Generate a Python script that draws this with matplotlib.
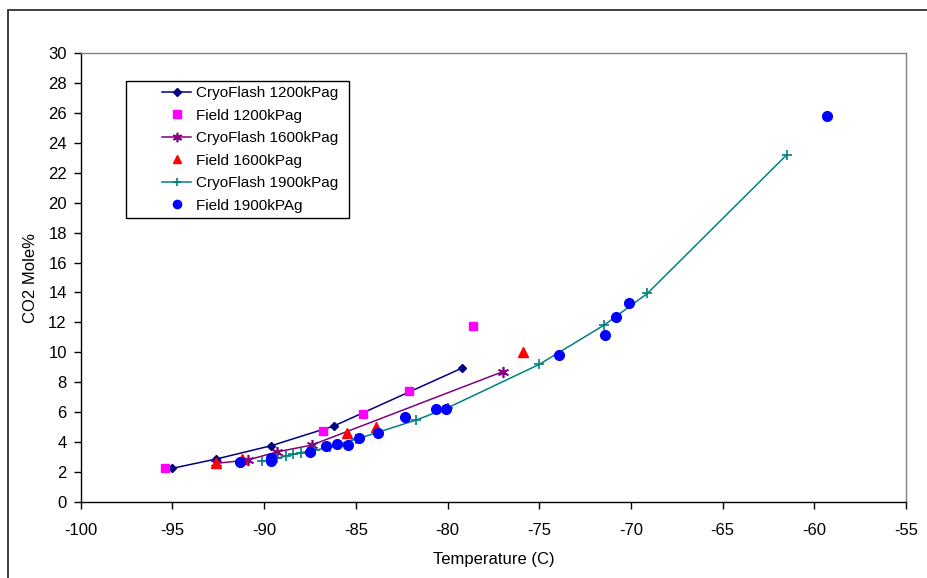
import matplotlib
matplotlib.use("Agg")
import matplotlib.pyplot as plt
from matplotlib.patches import Rectangle

plt.rcParams['font.family'] = ['Liberation Sans', 'DejaVu Sans']
plt.rcParams['axes.unicode_minus'] = False

# CryoFlash simulation and field data, temperature (C) vs CO2 mole %
cryo1200_t = [-95.0, -92.6, -89.6, -86.2, -79.2]
cryo1200_co2 = [2.27, 2.89, 3.78, 5.09, 8.96]

field1200_t = [-95.4, -86.8, -84.6, -82.1, -78.6]
field1200_co2 = [2.27, 4.78, 5.89, 7.44, 11.76]

cryo1600_t = [-92.6, -90.9, -89.3, -87.4, -77.0]
cryo1600_co2 = [2.6, 2.82, 3.36, 3.82, 8.71]

field1600_t = [-92.6, -91.2, -85.5, -83.9, -75.9]
field1600_co2 = [2.6, 2.91, 4.6, 5.0, 10.0]

cryo1900_t = [-90.1, -89.3, -88.8, -88.4, -88.0, -87.2, -86.4, -85.0,
              -81.7, -80.0, -75.0, -71.45, -69.1, -61.5]
cryo1900_co2 = [2.75, 2.93, 3.09, 3.2, 3.31, 3.47, 3.71, 4.2,
                5.49, 6.3, 9.2, 11.83, 13.94, 23.19]

field1900_t = [-91.3, -89.6, -89.6, -87.5, -86.6, -86.0, -85.4, -84.8,
               -83.8, -82.3, -80.6, -80.1, -73.9, -71.4, -70.8, -70.1, -59.3]
field1900_co2 = [2.71, 2.98, 2.78, 3.38, 3.76, 3.89, 3.84, 4.31,
                 4.64, 5.67, 6.24, 6.24, 9.81, 11.16, 12.36, 13.28, 25.75]

x_ticks = [-100, -95, -90, -85, -80, -75, -70, -65, -60, -55]
y_ticks = list(range(0, 31, 2))

fig = plt.figure(figsize=(9.27, 5.78), dpi=100)
ax = fig.add_axes([80.7 / 927, 1 - 502.3 / 578, (906 - 80.7) / 927, (502.3 - 52.7) / 578])

ax.plot(cryo1200_t, cryo1200_co2, color='#000080', lw=1.1, marker='D', ms=4.5,
        label='CryoFlash 1200kPag')
ax.plot(field1200_t, field1200_co2, ls='none', color='#FF00FF', marker='s', ms=6,
        label='Field 1200kPag')
ax.plot(cryo1600_t, cryo1600_co2, color='#800080', lw=1.1, marker=(6, 2, 0), ms=8,
        mew=1.2, label='CryoFlash 1600kPag')
ax.plot(field1600_t, field1600_co2, ls='none', color='#FF0000', marker='^', ms=7,
        label='Field 1600kPag')
ax.plot(cryo1900_t, cryo1900_co2, color='#008080', lw=1.1, marker='+', ms=7,
        mew=1.2, label='CryoFlash 1900kPag')
ax.plot(field1900_t, field1900_co2, ls='none', color='#0000FF', marker='o', ms=7,
        label='Field 1900kPAg')

ax.set_xlim(-100, -55)
ax.set_ylim(0, 30)
ax.set_xticks(x_ticks)
ax.set_yticks(y_ticks)
ax.tick_params(direction='out', length=5, width=1, labelsize=12)
ax.tick_params(axis='x', pad=10)
ax.tick_params(axis='y', pad=5)
ax.spines['top'].set_color('#808080')
ax.spines['right'].set_color('#808080')
for s in ax.spines.values():
    s.set_linewidth(1)

ax.set_xlabel('Temperature (C)', fontsize=12, labelpad=10)
ax.set_ylabel('CO2 Mole%', fontsize=12, labelpad=7)

leg = ax.legend(loc='upper left', bbox_to_anchor=(162 / 927, 1 - 86 / 578),
                bbox_transform=fig.transFigure, frameon=False, fontsize=11,
                handlelength=1.9, handletextpad=0.3, labelspacing=0.56,
                borderpad=0, borderaxespad=0, markerscale=0.85)

# legend box and outer chart border
fig.patches.append(Rectangle((126 / 927, 1 - 218 / 578), (349 - 126) / 927, (218 - 80.7) / 578,
                             transform=fig.transFigure, fill=False, ec='black', lw=1))
fig.patches.append(Rectangle((8 / 927, -0.1), 1.2, 1.1 - 10 / 578,
                             transform=fig.transFigure, fill=False, ec='#303030', lw=1.3))

fig.savefig('out.png', dpi=100)
